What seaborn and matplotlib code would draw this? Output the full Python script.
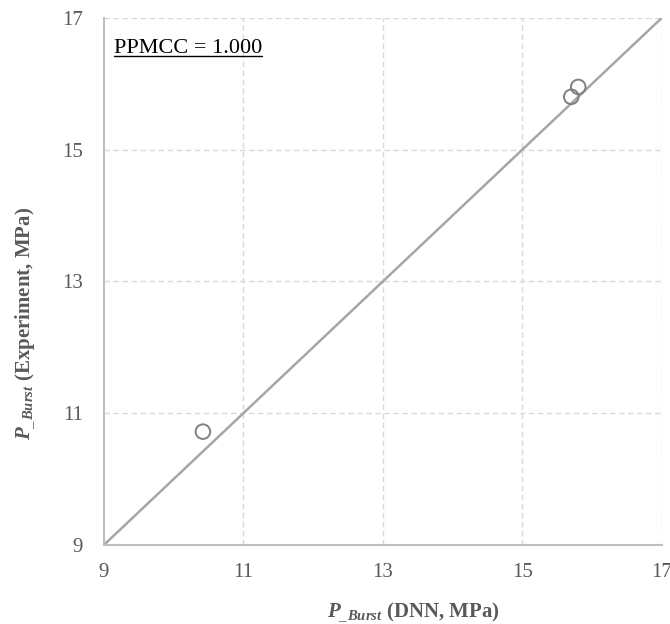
import matplotlib
matplotlib.use("Agg")
import matplotlib.pyplot as plt
import seaborn as sns
import pandas as pd
from matplotlib.lines import Line2D

dnn = [10.42, 15.70, 15.80]
experiment = [10.72, 15.80, 15.95]
ticks = [9, 11, 13, 15, 17]
ppmcc_text = "PPMCC = 1.000"

sns.set_theme(style="white")
plt.rcParams['font.family'] = ['Liberation Serif', 'DejaVu Serif']
plt.rcParams['mathtext.fontset'] = 'custom'
plt.rcParams['mathtext.rm'] = 'Liberation Serif'
plt.rcParams['mathtext.it'] = 'Liberation Serif:italic'
plt.rcParams['mathtext.bf'] = 'Liberation Serif:bold'
plt.rcParams['mathtext.bfit'] = 'Liberation Serif:bold:italic'

df = pd.DataFrame({"dnn": dnn, "exp": experiment})

fig = plt.figure(figsize=(6.7, 6.24), dpi=100)
ax = fig.add_axes([0.155, 0.1266, 0.833, 0.845])

grid_c = "#D9D9D9"
for t in ticks[1:]:
    ax.axvline(t, color=grid_c, lw=1.0, ls=(0, (4, 2.5)), zorder=0)
    ax.axhline(t, color=grid_c, lw=1.0, ls=(0, (4, 2.5)), zorder=0)

sns.lineplot(x=[ticks[0], ticks[-1]], y=[ticks[0], ticks[-1]], ax=ax,
             color="#A6A6A6", lw=1.8, zorder=2)
sns.scatterplot(data=df, x="dnn", y="exp", ax=ax, s=110, marker="o",
                facecolor="none", edgecolor="#808080", linewidth=1.4, zorder=3)

ax.set_xlim(ticks[0], ticks[-1])
ax.set_ylim(ticks[0], ticks[-1])
ax.set_xticks(ticks)
ax.set_yticks(ticks)
ax.tick_params(axis='both', labelsize=15, colors="#595959", length=0)
ax.tick_params(axis='x', pad=13)
ax.tick_params(axis='y', pad=15)
for s in ["top", "right"]:
    ax.spines[s].set_visible(False)
for s in ["left", "bottom"]:
    ax.spines[s].set_color("#BFBFBF")
    ax.spines[s].set_linewidth(1.5)

lab_c = "#595959"
ax.set_xlabel(r"$\mathbfit{P}_{\mathbfit{\_Burst}}$ (DNN, MPa)", fontsize=15,
              fontweight="bold", color=lab_c)
ax.set_ylabel(r"$\mathbfit{P}_{\mathbfit{\_Burst}}$ (Experiment, MPa)", fontsize=15,
              fontweight="bold", color=lab_c)
ax.xaxis.set_label_coords(0.554, -0.105)
ax.yaxis.set_label_coords(-0.12, 0.42)

txt = ax.text(0.018, 0.9336, ppmcc_text, transform=ax.transAxes,
              fontsize=16, color="black", ha="left", va="baseline")

fig.canvas.draw()
bb = txt.get_window_extent(renderer=fig.canvas.get_renderer())
inv = fig.transFigure.inverted()
x0, _ = inv.transform((bb.x0, bb.y0))
x1, _ = inv.transform((bb.x1, bb.y0))
_, yb = ax.transAxes.transform((0, 0.9336))
_, yl = inv.transform((0, yb - 3))
fig.add_artist(Line2D([x0, x1], [yl, yl], transform=fig.transFigure, color="black", lw=1.0))

fig.savefig("out.png", dpi=100)
